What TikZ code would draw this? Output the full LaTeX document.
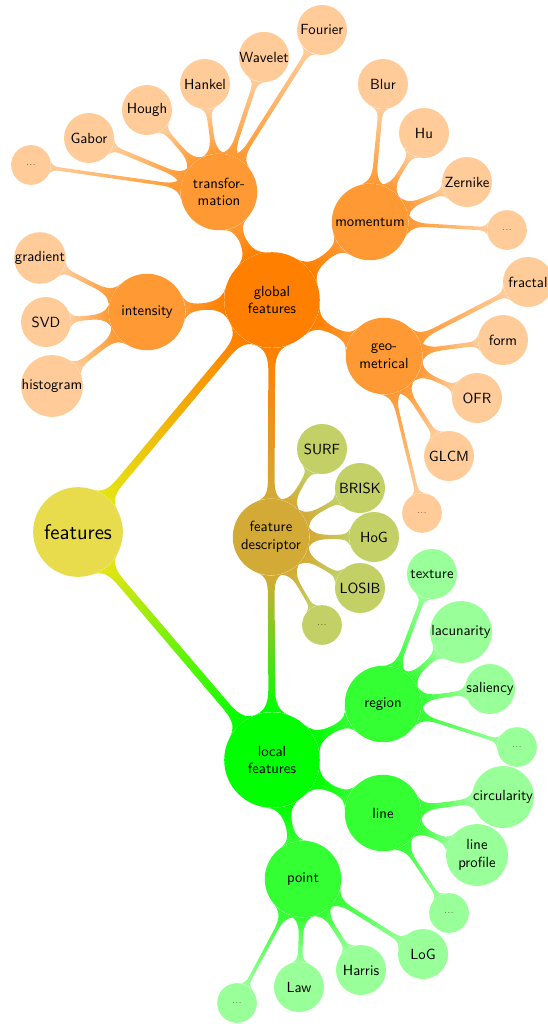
\documentclass[tikz,border=0pt]{standalone}
\usepackage{tikz}
\usetikzlibrary{mindmap}

\definecolor{rootyellow}{RGB}{232,220,76}
\definecolor{baryellow}{RGB}{228,228,20}
\definecolor{descbrown}{RGB}{212,170,54}
\definecolor{descleaf}{RGB}{194,208,102}
\newcommand{\leafdots}{.\kern0.7pt.\kern0.7pt.}

\begin{document}
\begin{tikzpicture}[x=0.68pt, y=-0.68pt, font=\sffamily,
    bubble/.style={circle, inner sep=0pt, align=center, text=black},
    rootc/.style={bubble, minimum size=61pt, font=\sffamily\Large},
    mainc/.style={bubble, minimum size=65pt},
    subc/.style={bubble, minimum size=52pt},
    leaf/.style={bubble, minimum size=34pt},
    bigleaf/.style={bubble, minimum size=42pt},
    dotleaf/.style={bubble, minimum size=27pt, font=\sffamily\tiny},
    link/.style args={#1/#2/#3}{circle connection bar switch color=from (#1) to (#2), line width=#3}]
    \useasboundingbox (0,0) rectangle (548,1024);

    % main concepts
    \node[rootc, fill=rootyellow] (root) at (78,532) {features};
    \node[mainc, fill=orange] (global) at (272,300) {global\\features};
    \node[mainc, fill=green] (local) at (272,760) {local\\features};
    \node[subc, fill=descbrown] (desc) at (271,537) {feature\\descriptor};
    \path (root) to[link=baryellow/orange/7pt] (global);
    \path (root) to[link=baryellow/green/7pt] (local);
    \path (global) to[link=orange/descbrown/6pt] (desc);
    \path (desc) to[link=descbrown/green/6pt] (local);

    % global features
    \foreach \n/\x/\y/\t in {trans/219/192/{transfor-\\mation}, mom/370/222/momentum,
        inten/147/312/intensity, geo/384/356/{geo-\\metrical}} {
        \node[subc, fill=orange!80] (\n) at (\x,\y) {\t};
        \path (global) to[link=orange/orange!80/6pt] (\n);
    }
    \foreach \p/\n/\x/\y/\t/\s in {trans/trdots/31/165/\leafdots/dotleaf, trans/gabor/89/138/Gabor/leaf,
        trans/hough/147/110/Hough/leaf, trans/hankel/205/84/Hankel/leaf,
        trans/wavelet/264/57/Wavelet/leaf, trans/fourier/322/30/Fourier/leaf,
        mom/blur/383/84/Blur/leaf, mom/hu/424/133/Hu/leaf, mom/zernike/467/182/Zernike/leaf,
        mom/modots/507/230/\leafdots/dotleaf,
        inten/gradient/40/258/gradient/leaf, inten/svd/46/322/SVD/leaf,
        inten/histogram/52/386/histogram/bigleaf,
        geo/fractal/528/282/fractal/leaf, geo/form/503/340/form/leaf, geo/ofr/477/398/OFR/leaf,
        geo/glcm/449/456/GLCM/leaf, geo/gedots/422/513/\leafdots/dotleaf} {
        \node[\s, fill=orange!40] (\n) at (\x,\y) {\t};
        \path (\p) to[link=orange!80/orange!40/3.5pt] (\n);
    }

    % feature descriptor
    \foreach \n/\x/\y/\t/\s in {surf/322/449/SURF/leaf, brisk/360/488/BRISK/leaf,
        hog/374/537/HoG/leaf, losib/360/588/LOSIB/leaf, dedots/322/625/\leafdots/dotleaf} {
        \node[\s, fill=descleaf] (\n) at (\x,\y) {\t};
        \path (desc) to[link=descbrown/descleaf/3.5pt] (\n);
    }

    % local features
    \foreach \n/\x/\y/\t in {region/383/704/region, line/383/813/line, point/303/879/point} {
        \node[subc, fill=green!80] (\n) at (\x,\y) {\t};
        \path (local) to[link=green/green!80/6pt] (\n);
    }
    \foreach \p/\n/\x/\y/\t/\s in {region/texture/432/574/texture/leaf,
        region/lacunarity/461/632/lacunarity/bigleaf, region/saliency/490/689/saliency/leaf,
        region/redots/517/747/\leafdots/dotleaf,
        line/circularity/503/797/circularity/bigleaf, line/profile/477/855/{line\\profile}/bigleaf,
        line/lidots/449/913/\leafdots/dotleaf,
        point/log/423/954/LoG/leaf, point/harris/361/970/Harris/leaf, point/law/299/987/Law/leaf,
        point/podots/237/1003/\leafdots/dotleaf} {
        \node[\s, fill=green!40] (\n) at (\x,\y) {\t};
        \path (\p) to[link=green!80/green!40/3.5pt] (\n);
    }
\end{tikzpicture}
\end{document}
